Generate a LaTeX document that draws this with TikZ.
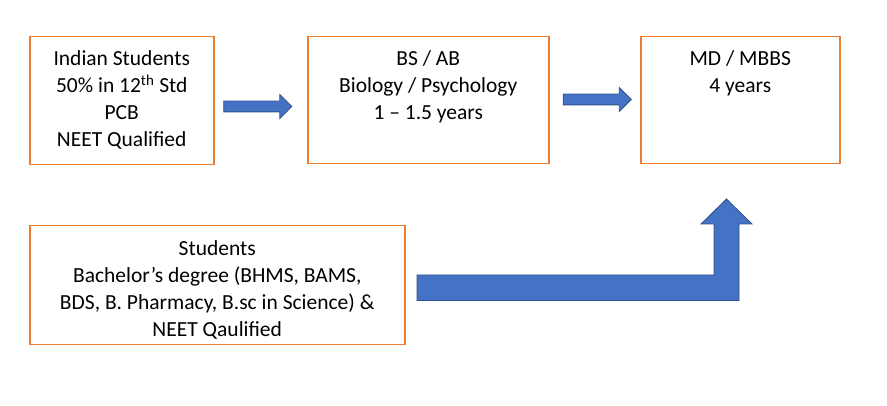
\documentclass[tikz,border=0pt]{standalone}
\usepackage{fontspec}
\setmainfont{Carlito}
\usetikzlibrary{shapes.arrows}
\definecolor{boxorange}{RGB}{237,125,49}
\definecolor{arrowblue}{RGB}{68,114,196}
\definecolor{arrowedge}{RGB}{47,82,143}
\newcommand{\steptext}[1]{\begin{tabular}[t]{@{}c@{}}#1\end{tabular}}

\begin{document}
\begin{tikzpicture}[x=1pt,y=-1pt,
  stepbox/.style={draw=boxorange, line width=1.5pt, anchor=north west,
    inner xsep=0pt, inner ysep=0pt, text height=29pt, font=\fontsize{21.5}{27}\selectfont},
  flowarrow/.style={single arrow, draw=arrowedge, fill=arrowblue, line width=0.8pt,
    minimum height=68pt, single arrow head extend=6.5pt, single arrow head indent=0pt,
    inner xsep=0pt, inner ysep=5pt, text height=0pt, text depth=0pt}]

\useasboundingbox (0,0) rectangle (887,406);

% top row
\node[stepbox, minimum width=184pt, text depth=99pt] (indian) at (29,36)
  {\steptext{Indian Students\\50\% in 12\textsuperscript{th} Std\\PCB\\NEET Qualified}};
\node[stepbox, minimum width=241pt, text depth=98pt] (bsab) at (307,36)
  {\steptext{BS / AB\\Biology / Psychology\\1 – 1.5 years}};
\node[stepbox, minimum width=199pt, text depth=98pt] (mbbs) at (640,36)
  {\steptext{MD / MBBS\\4 years}};

\node[flowarrow] (arrowone) at (255,106.5) {};
\node[flowarrow] (arrowtwo) at (594.5,99.5) {};

% bottom one
\node[stepbox, minimum width=375pt, text height=30pt, text depth=89pt] (bachelor) at (29,225)
  {\steptext{Students\\Bachelor’s degree (BHMS, BAMS,\\BDS, B. Pharmacy, B.sc in Science) \&\\NEET Qaulified}};

\draw[draw=arrowedge, fill=arrowblue, line width=0.8pt]
  (417,275) -- (714,275) -- (714,224) -- (701,224) -- (726.5,199)
  -- (752,224) -- (739,224) -- (739,300.5) -- (417,300.5) -- cycle;

\end{tikzpicture}
\end{document}
